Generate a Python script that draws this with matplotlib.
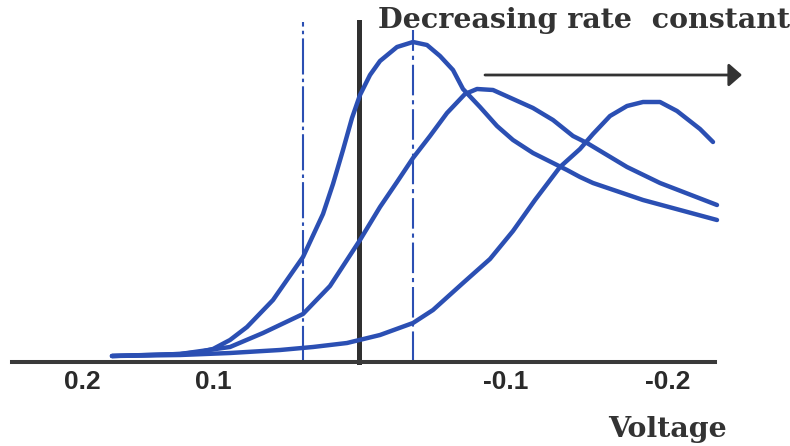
import matplotlib
matplotlib.use("Agg")
import matplotlib.pyplot as plt
from matplotlib import font_manager

plt.rcParams['lines.scale_dashes'] = False

# ---- data (horizontal position units, height above baseline) ----
tick_pos = [82, 213, 506, 668]
tick_labels = ["0.2", "0.1", "-0.1", "-0.2"]

c1_x = [112, 150, 180, 200, 213, 230, 247, 273, 303, 323, 333, 343, 352, 360, 370, 380,
        397, 413, 427, 440, 453, 463, 480, 497, 513, 533, 553, 567, 580, 593, 643, 680, 717]
c1_y = [6, 7, 8, 10, 13, 22, 35, 62, 105, 148, 178, 212, 244, 267, 287, 301,
        315, 320, 317, 306, 292, 273, 255, 236, 222, 209, 199, 192, 185, 179, 162, 152, 142]

c2_x = [112, 180, 230, 263, 303, 330, 360, 380, 397, 413, 430, 447, 465, 477, 493,
        513, 533, 553, 573, 587, 627, 660, 717]
c2_y = [6, 8, 15, 29, 48, 76, 122, 155, 180, 204, 226, 249, 268, 273, 272,
        263, 254, 242, 226, 219, 195, 179, 157]

c3_x = [112, 180, 230, 280, 313, 347, 380, 413, 433, 463, 490, 513, 535, 560, 580,
        593, 610, 627, 643, 660, 677, 700, 713]
c3_y = [6, 7, 9, 12, 15, 19, 27, 39, 52, 79, 103, 131, 162, 195, 213,
        228, 246, 256, 260, 260, 251, 233, 220]

vline_x = [303, 359, 413]
vline_top = [340, 340, 332]

title_text = "Decreasing rate  constant"
xlabel_text = "Voltage"

# ---- fonts ----
names = {f.name for f in font_manager.fontManager.ttflist}
tick_font = 'Liberation Sans Narrow' if 'Liberation Sans Narrow' in names else 'Liberation Sans'

fig = plt.figure(figsize=(7.9, 4.46), dpi=100)
W, H = 790, 446
x0, x1, yb = 12, 715, 362
ax = fig.add_axes([x0 / W, (H - yb) / H, (x1 - x0) / W, yb / H])
ax.set_xlim(x0, x1)
ax.set_ylim(0, yb)
for s in ['top', 'right', 'left']:
    ax.spines[s].set_visible(False)
ax.spines['bottom'].set_linewidth(2.9)
ax.spines['bottom'].set_color('#3a3a3a')
ax.set_yticks([])
ax.set_xticks(tick_pos)
ax.set_xticklabels(tick_labels, fontfamily=tick_font, fontweight='bold',
                   fontsize=19, color='#2a2a2a')
ax.tick_params(axis='x', length=0, pad=6)
ax.patch.set_alpha(0)

blue = '#2b4fb3'
ax.plot(vline_x[0:1] * 2, [0, vline_top[0]], color=blue, lw=1.5,
        dashes=(26, 3, 2.5, 3), clip_on=False, zorder=2)
ax.plot(vline_x[1:2] * 2, [0, vline_top[1]], color='#303030', lw=3.6,
        clip_on=False, zorder=2)
ax.plot(vline_x[2:3] * 2, [0, vline_top[2]], color=blue, lw=1.5,
        dashes=(22, 3.5, 3, 3.5), clip_on=False, zorder=2)

for cx, cy in [(c1_x, c1_y), (c2_x, c2_y), (c3_x, c3_y)]:
    ax.plot(cx, cy, color=blue, lw=3.2, solid_capstyle='round',
            solid_joinstyle='round', clip_on=False, zorder=3)

ax.text(584, 334, title_text, ha='center', va='baseline', fontfamily='DejaVu Serif',
        fontweight='bold', fontsize=20.5, color='#333333', clip_on=False, zorder=4)
ax.annotate('', xy=(742, 287), xytext=(485, 287),
            arrowprops=dict(arrowstyle='-|>,head_length=0.4,head_width=0.35',
                            lw=2.0, color='#333333', mutation_scale=20,
                            shrinkA=0, shrinkB=0), annotation_clip=False)
ax.text(667, -75, xlabel_text, ha='center', va='baseline', fontfamily='DejaVu Serif',
        fontweight='bold', fontsize=20.5, color='#333333', clip_on=False)

fig.savefig('out.png', dpi=100)
